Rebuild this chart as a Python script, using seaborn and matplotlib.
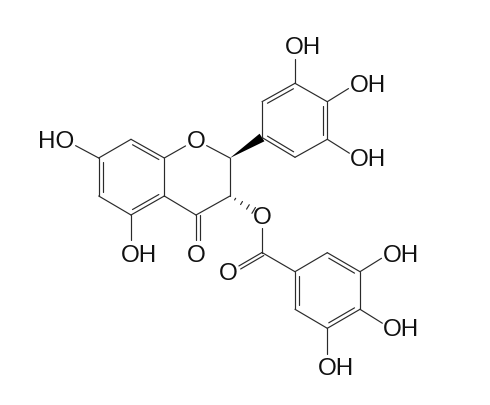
import numpy as np
import pandas as pd
import seaborn as sns
import matplotlib.pyplot as plt

# atom positions (pixels)
atom_names = ['C7', 'C8', 'C8a', 'C4a', 'C5', 'C6', 'O1', 'C2', 'C3', 'C4',
              'B1', 'B2', 'B3', 'B4', 'B5', 'B6',
              'Oc', 'Oe', 'Ce', 'Oce',
              'G1', 'G2', 'G3', 'G4', 'G5', 'G6',
              'O7', 'O5', 'OB3', 'OB4', 'OB5', 'OG3', 'OG4', 'OG5']
atom_x = [98.7, 131, 164.3, 164.3, 131, 98.7, 196, 230, 230, 196,
          262, 262, 295, 327.3, 327.3, 295,
          196, 262, 262, 228.5,
          295, 327.3, 360, 360, 327.3, 295,
          65, 131, 295, 357, 357, 390, 390, 327.3]
atom_y = [158, 139.3, 158, 196, 215, 196, 140, 158, 196, 215,
          137.5, 101.7, 83.3, 101.7, 139.3, 157.3,
          253, 215.5, 252.5, 272,
          271.7, 252.7, 271.7, 309.3, 328.3, 309.3,
          140, 253, 45.7, 83.3, 158, 253, 328, 366.7]

single_bonds = [('C7', 'C8'), ('C8', 'C8a'), ('C8a', 'C4a'), ('C4a', 'C5'), ('C5', 'C6'), ('C6', 'C7'),
                ('C8a', 'O1'), ('O1', 'C2'), ('C2', 'C3'), ('C3', 'C4'), ('C4', 'C4a'),
                ('B1', 'B2'), ('B2', 'B3'), ('B3', 'B4'), ('B4', 'B5'), ('B5', 'B6'), ('B6', 'B1'),
                ('Oe', 'Ce'), ('Ce', 'G1'),
                ('G1', 'G2'), ('G2', 'G3'), ('G3', 'G4'), ('G4', 'G5'), ('G5', 'G6'), ('G6', 'G1'),
                ('C7', 'O7'), ('C5', 'O5'), ('B3', 'OB3'), ('B4', 'OB4'), ('B5', 'OB5'),
                ('G3', 'OG3'), ('G4', 'OG4'), ('G5', 'OG5'),
                ('C4', 'Oc'), ('Ce', 'Oce')]

ring_a = ['C7', 'C8', 'C8a', 'C4a', 'C5', 'C6']
ring_b = ['B1', 'B2', 'B3', 'B4', 'B5', 'B6']
ring_g = ['G1', 'G2', 'G3', 'G4', 'G5', 'G6']
ring_doubles = [('C6', 'C7', ring_a), ('C8', 'C8a', ring_a), ('C4a', 'C5', ring_a),
                ('B2', 'B3', ring_b), ('B4', 'B5', ring_b), ('B6', 'B1', ring_b),
                ('G2', 'G3', ring_g), ('G4', 'G5', ring_g), ('G6', 'G1', ring_g)]

label_text = ['HO', 'OH', 'O', 'OH', 'OH', 'OH', 'OH', 'OH', 'OH', 'O', 'O', 'O']
label_x = [56.5, 139, 196, 302.7, 368, 368, 401, 401, 335.7, 196, 262, 228.5]
label_y = [140, 253, 140, 45.7, 83.3, 158, 253, 328, 366.7, 253, 215.5, 272]

pos = {n: np.array([x, y]) for n, x, y in zip(atom_names, atom_x, atom_y)}
hetero = {'O1': 12, 'Oc': 13, 'Oe': 12, 'Oce': 12,
          'O7': 12, 'O5': 13, 'OB3': 13, 'OB4': 10, 'OB5': 9, 'OG3': 10, 'OG4': 9, 'OG5': 13}


def trimmed(a, b):
    p, q = pos[a], pos[b]
    u = (q - p) / np.linalg.norm(q - p)
    if a in hetero:
        p = p + u * hetero[a]
    if b in hetero:
        q = q - u * hetero[b]
    return p, q


rows = []


def add_seg(p, q):
    k = len(rows)
    rows.append({'bond': k, 'x': p[0], 'y': p[1]})
    rows.append({'bond': k, 'x': q[0], 'y': q[1]})


for a, b in single_bonds:
    add_seg(*trimmed(a, b))

# inner line of the ring double bonds
for a, b, ring in ring_doubles:
    p, q = pos[a], pos[b]
    centre = np.mean([pos[n] for n in ring], axis=0)
    u = (q - p) / np.linalg.norm(q - p)
    n = np.array([-u[1], u[0]])
    if np.dot(centre - p, n) < 0:
        n = -n
    add_seg(p + n * 4 + u * 4, q + n * 4 - u * 4)

# second line of the two C=O bonds
for a, b, side in [('C4', 'Oc', -3.5), ('Ce', 'Oce', -3.5)]:
    p, q = trimmed(a, b)
    u = (q - p) / np.linalg.norm(q - p)
    n = np.array([-u[1], u[0]])
    add_seg(p + n * side, q + n * side)

# hashed bond C3 -> ester O
p3 = pos['C3']
qe = pos['Oe']
u = (qe - p3) / np.linalg.norm(qe - p3)
n = np.array([-u[1], u[0]])
for t, half in [(0.16, 1.0), (0.36, 1.8), (0.56, 2.6), (0.74, 3.4)]:
    c = p3 + (qe - p3) * t
    add_seg(c - n * half, c + n * half)

segs = pd.DataFrame(rows)

sns.set_style('white')
fig = plt.figure(figsize=(4.9, 4.05), dpi=100)
ax = fig.add_axes([0, 0, 1, 1])
sns.lineplot(data=segs, x='x', y='y', units='bond', estimator=None, sort=False,
             color='#2a2a2a', linewidth=0.85, ax=ax, legend=False)

# solid wedge C2 -> B1
w0, w1 = pos['C2'], pos['B1']
wu = (w1 - w0) / np.linalg.norm(w1 - w0)
wn = np.array([-wu[1], wu[0]])
tri = np.array([w0, w1 + wn * 4.5, w1 - wn * 4.5])
ax.fill(tri[:, 0], tri[:, 1], color='black', lw=0)

for s, x, y in zip(label_text, label_x, label_y):
    ax.text(x, y + 8.5, s, ha='center', va='baseline', fontsize=17.4,
            family='Liberation Sans', color='#111111')

ax.set_xlim(0, 490)
ax.set_ylim(405, 0)
ax.axis('off')
fig.savefig('out.png', dpi=100)
